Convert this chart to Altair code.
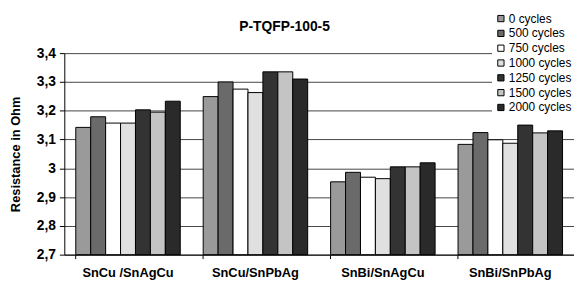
import altair as alt
import pandas as pd

categories = ["SnCu /SnAgCu", "SnCu/SnPbAg", "SnBi/SnAgCu", "SnBi/SnPbAg"]
series = ["0 cycles", "500 cycles", "750 cycles", "1000 cycles",
          "1250 cycles", "1500 cycles", "2000 cycles"]
colors = ["#9a9a9a", "#6a6a6a", "#ffffff", "#e0e0e0", "#333333", "#c4c4c4", "#2a2a2a"]

v_0 = [3.142, 3.249, 2.953, 3.083]
v_500 = [3.179, 3.300, 2.986, 3.124]
v_750 = [3.157, 3.275, 2.969, 3.099]
v_1000 = [3.157, 3.263, 2.964, 3.087]
v_1250 = [3.203, 3.335, 3.005, 3.150]
v_1500 = [3.195, 3.335, 3.005, 3.123]
v_2000 = [3.233, 3.310, 3.019, 3.130]
values = [v_0, v_500, v_750, v_1000, v_1250, v_1500, v_2000]

y_ticks = [2.7, 2.8, 2.9, 3.0, 3.1, 3.2, 3.3, 3.4]

rows = []
for s, vals in zip(series, values):
    for c, v in zip(categories, vals):
        rows.append({"Alloy": c, "Series": s, "Value": v})
df = pd.DataFrame(rows)

FONT = "Liberation Sans"

chart = alt.Chart(df).mark_bar(stroke="black", strokeWidth=1).encode(
    x=alt.X("Alloy:N", sort=categories,
            scale=alt.Scale(paddingInner=0.18, paddingOuter=0.09),
            axis=alt.Axis(title=None, labelAngle=0, labelFontSize=13, labelFontWeight="bold",
                          labelColor="black", labelPadding=8, tickSize=4, tickColor="black",
                          domainColor="black", bandPosition=0, labelFont=FONT)),
    xOffset=alt.XOffset("Series:N", sort=series),
    y=alt.Y("Value:Q",
            scale=alt.Scale(domain=[2.7, 3.4], zero=False, nice=False, clamp=True),
            axis=alt.Axis(title="Resistance in Ohm", values=y_ticks,
                          labelExpr="replace(format(datum.value, '.1~f'), '.', ',')",
                          labelFontSize=14, labelFontWeight="bold", labelColor="black",
                          labelFont=FONT, titleFont=FONT, titleFontSize=13,
                          titleFontWeight="bold", titleColor="black", titlePadding=14,
                          tickSize=5, tickColor="black", domainColor="black",
                          gridColor="#444444", gridWidth=1, labelPadding=4)),
    color=alt.Color("Series:N", sort=series,
                    scale=alt.Scale(domain=series, range=colors),
                    legend=alt.Legend(title=None, orient="none", legendX=433, legendY=-44,
                                      symbolType="square", symbolSize=40,
                                      symbolStrokeColor="black", symbolStrokeWidth=1,
                                      labelFontSize=12, labelFont=FONT, labelColor="black",
                                      fillColor="white", padding=3, rowPadding=3,
                                      labelOffset=2)),
).properties(
    width=516, height=204,
    title=alt.TitleParams("P-TQFP-100-5", fontSize=14, fontWeight="bold", font=FONT,
                          color="black", anchor="middle", dx=-35, offset=-25, frame="group"),
    autosize=alt.AutoSizeParams(type="none"),
    padding={"left": 57, "top": 44, "right": 0, "bottom": 26},
).configure_view(stroke=None).configure_axis(grid=True).configure_axisX(grid=False)

chart.save("out.html", embed_options={"renderer": "svg", "actions": False})
